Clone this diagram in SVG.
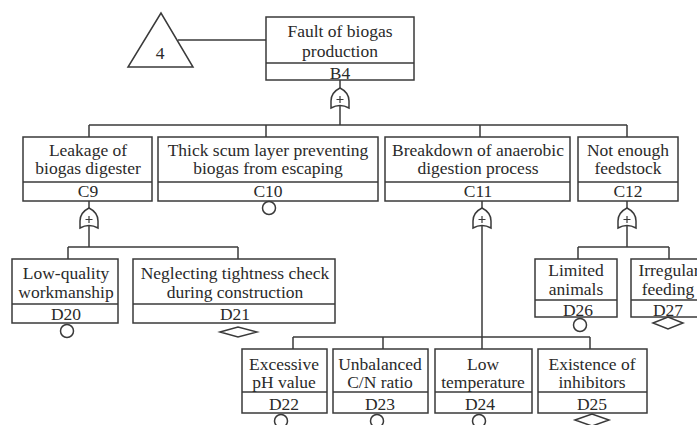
<svg xmlns="http://www.w3.org/2000/svg" width="697" height="425" viewBox="0 0 697 425" font-family="'Liberation Serif', 'DejaVu Serif', 'Times New Roman', serif">
<defs>
<style>
.bx{fill:#fff;stroke:#3a3a3a;stroke-width:1.5}
.ln{fill:none;stroke:#3a3a3a;stroke-width:1.5}
.sym{fill:#fff;stroke:#3a3a3a;stroke-width:1.5}
text{font-family:'Liberation Serif','DejaVu Serif','Times New Roman',serif;font-size:17.5px;fill:#2a2a2a;text-anchor:middle}
.pl{fill:none;stroke:#3a3a3a;stroke-width:1.2}
</style>
<g id="orgate">
<path class="sym" d="M0,0 C6,3 9,8 9,13 L9,20 Q0,15 -9,20 L-9,13 C-9,8 -6,3 0,0 Z"/>
<path class="pl" d="M-3.5,11.5 H3.5 M0,8 V15"/>
</g>
</defs>
<rect width="697" height="425" fill="#fff"/>

<g id="connectors">
<line class="ln" x1="178" y1="40" x2="266" y2="40"/>
<line class="ln" x1="340" y1="80" x2="340" y2="125"/>
<line class="ln" x1="89" y1="125" x2="627" y2="125"/>
<line class="ln" x1="89" y1="125" x2="89" y2="137"/>
<line class="ln" x1="266" y1="125" x2="266" y2="137"/>
<line class="ln" x1="480" y1="125" x2="480" y2="137"/>
<line class="ln" x1="627" y1="125" x2="627" y2="137"/>
<line class="ln" x1="89" y1="201" x2="89" y2="247"/>
<line class="ln" x1="68" y1="247" x2="238" y2="247"/>
<line class="ln" x1="68" y1="247" x2="68" y2="259"/>
<line class="ln" x1="238" y1="247" x2="238" y2="259"/>
<line class="ln" x1="482" y1="201" x2="482" y2="349"/>
<line class="ln" x1="293" y1="337" x2="590" y2="337"/>
<line class="ln" x1="293" y1="337" x2="293" y2="349"/>
<line class="ln" x1="383" y1="337" x2="383" y2="349"/>
<line class="ln" x1="590" y1="337" x2="590" y2="349"/>
<line class="ln" x1="627" y1="201" x2="627" y2="247"/>
<line class="ln" x1="578" y1="247" x2="669" y2="247"/>
<line class="ln" x1="578" y1="247" x2="578" y2="259"/>
<line class="ln" x1="669" y1="247" x2="669" y2="259"/>
<use href="#orgate" x="340" y="88"/>
<use href="#orgate" x="89" y="208"/>
<use href="#orgate" x="482" y="208"/>
<use href="#orgate" x="627" y="208"/>
</g>

<g id="T4">
<polygon class="sym" points="161,13 128,67 193,67"/>
<text x="160" y="59">4</text>
</g>

<g id="B4">
<rect class="bx" x="266" y="17" width="148" height="63"/>
<line class="ln" x1="266" y1="63" x2="414" y2="63"/>
<text x="340" y="37">Fault of biogas</text>
<text x="340" y="57">production</text>
<text x="340" y="79">B4</text>
</g>

<g id="C9">
<rect class="bx" x="23" y="137" width="129" height="64"/>
<line class="ln" x1="23" y1="182" x2="152" y2="182"/>
<text x="88" y="156">Leakage of</text>
<text x="88" y="174">biogas digester</text>
<text x="88" y="197">C9</text>
</g>

<g id="C10">
<rect class="bx" x="158" y="137" width="220" height="64"/>
<line class="ln" x1="158" y1="182" x2="378" y2="182"/>
<text x="268" y="156">Thick scum layer preventing</text>
<text x="268" y="174">biogas from escaping</text>
<text x="268" y="197">C10</text>
<circle class="sym" cx="269" cy="208" r="6.5"/>
</g>

<g id="C11">
<rect class="bx" x="385" y="137" width="185" height="64"/>
<line class="ln" x1="385" y1="182" x2="570" y2="182"/>
<text x="478" y="156">Breakdown of anaerobic</text>
<text x="478" y="174">digestion process</text>
<text x="478" y="197">C11</text>
</g>

<g id="C12">
<rect class="bx" x="578" y="137" width="100" height="64"/>
<line class="ln" x1="578" y1="182" x2="678" y2="182"/>
<text x="628" y="156">Not enough</text>
<text x="628" y="174">feedstock</text>
<text x="628" y="197">C12</text>
</g>

<g id="D20">
<rect class="bx" x="12" y="259" width="106" height="64"/>
<line class="ln" x1="12" y1="304" x2="118" y2="304"/>
<text x="66" y="279">Low-quality</text>
<text x="66" y="298">workmanship</text>
<text x="66" y="320">D20</text>
<circle class="sym" cx="67" cy="331" r="6.5"/>
</g>

<g id="D21">
<rect class="bx" x="133" y="259" width="202" height="64"/>
<line class="ln" x1="133" y1="304" x2="335" y2="304"/>
<text x="235" y="279">Neglecting tightness check</text>
<text x="235" y="298">during construction</text>
<text x="235" y="320">D21</text>
<polygon class="sym" points="220,332 238,327 257,332 238,337"/>
</g>

<g id="D26">
<rect class="bx" x="535" y="259" width="82" height="58"/>
<line class="ln" x1="535" y1="300" x2="617" y2="300"/>
<text x="576" y="276">Limited</text>
<text x="576" y="295">animals</text>
<text x="578" y="316">D26</text>
<circle class="sym" cx="580" cy="325" r="6.5"/>
</g>

<g id="D27">
<rect class="bx" x="631" y="259" width="76" height="58"/>
<line class="ln" x1="631" y1="300" x2="707" y2="300"/>
<text x="669" y="276">Irregular</text>
<text x="668" y="295">feeding</text>
<text x="668" y="316">D27</text>
<polygon class="sym" points="653,323 668,317 683,323 668,329"/>
</g>

<g id="D22">
<rect class="bx" x="242" y="349" width="85" height="64"/>
<line class="ln" x1="242" y1="392" x2="327" y2="392"/>
<text x="284" y="370">Excessive</text>
<text x="284" y="388">pH value</text>
<text x="284" y="410">D22</text>
<circle class="sym" cx="281" cy="421" r="6.5"/>
</g>

<g id="D23">
<rect class="bx" x="333" y="349" width="95" height="64"/>
<line class="ln" x1="333" y1="392" x2="428" y2="392"/>
<text x="380" y="370">Unbalanced</text>
<text x="380" y="388">C/N ratio</text>
<text x="380" y="410">D23</text>
<circle class="sym" cx="377" cy="421" r="6.5"/>
</g>

<g id="D24">
<rect class="bx" x="435" y="349" width="97" height="64"/>
<line class="ln" x1="435" y1="392" x2="532" y2="392"/>
<text x="483" y="370">Low</text>
<text x="483" y="388">temperature</text>
<text x="480" y="410">D24</text>
<circle class="sym" cx="479" cy="421" r="6.5"/>
</g>

<g id="D25">
<rect class="bx" x="538" y="349" width="109" height="64"/>
<line class="ln" x1="538" y1="392" x2="647" y2="392"/>
<text x="592" y="370">Existence of</text>
<text x="592" y="388">inhibitors</text>
<text x="592" y="410">D25</text>
<polygon class="sym" points="575,420 592,414 609,420 592,426"/>
</g>
</svg>
